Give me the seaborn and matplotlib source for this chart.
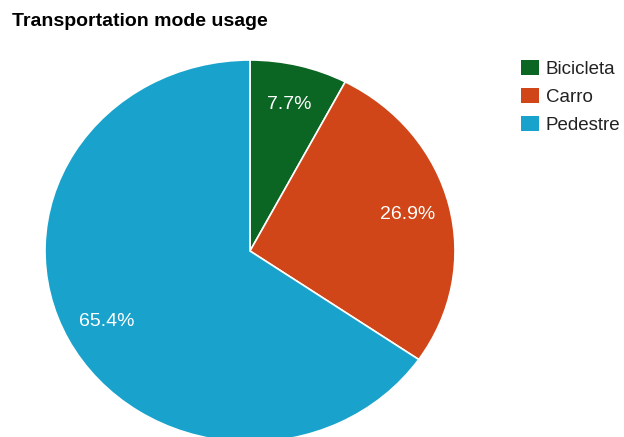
import matplotlib
matplotlib.use("Agg")
import matplotlib.pyplot as plt
from matplotlib.patches import Patch
import seaborn as sns

# Transportation mode counts
modes = ["Bicicleta", "Carro", "Pedestre"]
counts = [2, 7, 17]
colors = ["#0b6623", "#d04618", "#19a3cc"]

sns.set_theme(style="white")
plt.rcParams["font.family"] = ["Liberation Sans", "DejaVu Sans"]

W, H = 624, 437
fig = plt.figure(figsize=(W / 100, H / 100), dpi=100)
ax = fig.add_axes([0, 0, 1, 1])

wedges, texts, autotexts = ax.pie(
    counts,
    colors=colors,
    startangle=90,
    counterclock=False,
    autopct="%.1f%%",
    pctdistance=0.79,
    wedgeprops=dict(edgecolor="white", linewidth=1.2),
    textprops=dict(color="white", fontsize=14),
)

# Pie centre and radii in pixels (slightly elliptical), axes spans whole figure
cx, cy = 250, H - 251
rx, ry = 205, 191
ax.set_aspect("auto")
ax.set_xlim((0 - cx) / rx, (W - cx) / rx)
ax.set_ylim((0 - cy) / ry, (H - cy) / ry)
ax.axis("off")

fig.text(12 / W, 1 - 21 / H, "Transportation mode usage", fontsize=14,
         fontweight="bold", color="#000000", va="center", ha="left")

handles = [Patch(facecolor=c, edgecolor="none") for c in colors]
fig.legend(handles, modes, loc="upper left", bbox_to_anchor=(521 / W, 1 - 59.5 / H),
           frameon=False, fontsize=13.5, handlelength=0.95, handleheight=0.9,
           handletextpad=0.38, labelspacing=0.52, borderaxespad=0, borderpad=0,
           labelcolor="#222222")

fig.savefig("out.png", dpi=100)
